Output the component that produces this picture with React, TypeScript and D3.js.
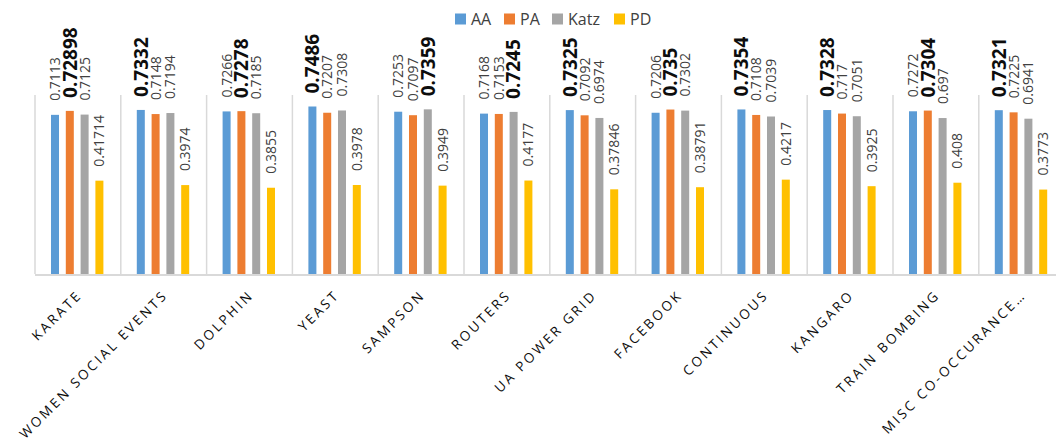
import React from "react";
import * as d3 from "d3";

const categories = [
  "KARATE",
  "WOMEN SOCIAL EVENTS",
  "DOLPHIN",
  "YEAST",
  "SAMPSON",
  "ROUTERS",
  "UA POWER GRID",
  "FACEBOOK",
  "CONTINUOUS",
  "KANGARO",
  "TRAIN BOMBING",
  "MISC CO-OCCURANCE…",
];
const seriesNames = ["AA", "PA", "Katz", "PD"];
const seriesColors = ["#5B9BD5", "#ED7D31", "#A5A5A5", "#FFC000"];
const aaValues = [0.7113, 0.7332, 0.7266, 0.7486, 0.7253, 0.7168, 0.7325, 0.7206, 0.7354, 0.7328, 0.7272, 0.7321];
const paValues = [0.72898, 0.7148, 0.7278, 0.7207, 0.7097, 0.7153, 0.7092, 0.735, 0.7108, 0.717, 0.7304, 0.7225];
const katzValues = [0.7125, 0.7194, 0.7185, 0.7308, 0.7359, 0.7245, 0.6974, 0.7302, 0.7039, 0.7051, 0.697, 0.6941];
const pdValues = [0.41714, 0.3974, 0.3855, 0.3978, 0.3949, 0.4177, 0.37846, 0.38791, 0.4217, 0.3925, 0.408, 0.3773];
const yDomain = [0, 0.8];

const allSeries = [aaValues, paValues, katzValues, pdValues];

export default function App() {
  const W = 1056;
  const H = 448;
  const left = 35;
  const catStep = 85.8;
  const x = d3
    .scaleBand<string>()
    .domain(categories)
    .range([left, left + catStep * categories.length])
    .padding(0);
  const inner = d3.scaleBand<string>().domain(seriesNames).range([12.6, 71.8]).padding(0);
  const y = d3.scaleLinear().domain(yDomain).range([274, 95]);
  const barW = 8;
  const legendX = [455, 504, 552, 614];

  return (
    <svg
      width={W}
      height={H}
      style={{ position: "absolute", left: 0, top: 0, background: "#fff" }}
      fontFamily="'Open Sans', sans-serif"
    >
      {categories.map((c, i) => (
        <line
          key={"sep" + i}
          x1={x(c)!}
          x2={x(c)!}
          y1={y(yDomain[1])}
          y2={y(0)}
          stroke="#d9d9d9"
          strokeWidth={1.5}
        />
      ))}
      <line
        x1={x.range()[1]}
        x2={x.range()[1]}
        y1={y(yDomain[1])}
        y2={y(0)}
        stroke="#d9d9d9"
        strokeWidth={1.5}
      />
      {categories.map((c, ci) => (
        <g key={"g" + ci}>
          {seriesNames.map((s, si) => {
            const v = allSeries[si][ci];
            const cx = x(c)! + inner(s)! + inner.bandwidth() / 2;
            return (
              <rect
                key={s}
                x={cx - barW / 2}
                y={y(v)}
                width={barW}
                height={y(0) - y(v)}
                fill={seriesColors[si]}
              />
            );
          })}
        </g>
      ))}
      <line x1={left} x2={x.range()[1]} y1={y(0) + 1} y2={y(0) + 1} stroke="#d9d9d9" strokeWidth={2} />
      {categories.map((c, ci) => {
        const group = [aaValues[ci], paValues[ci], katzValues[ci]];
        const maxV = Math.max(...group);
        return (
          <g key={"l" + ci}>
            {seriesNames.map((s, si) => {
              const v = allSeries[si][ci];
              const cx = x(c)! + inner(s)! + inner.bandwidth() / 2;
              const bold = si < 3 && v === maxV;
              const ty = y(v) - (bold ? 13 : 14);
              return (
                <text
                  key={s}
                  transform={`translate(${cx},${ty}) rotate(-90)`}
                  dy="0.36em"
                  fontSize={bold ? 19 : 14}
                  fontWeight={bold ? 700 : 400}
                  fill={bold ? "#0d0d0d" : "#404040"}
                  textAnchor="start"
                >
                  {String(v)}
                </text>
              );
            })}
          </g>
        );
      })}
      {categories.map((c, ci) => {
        const cx = x(c)! + x.bandwidth() / 2;
        return (
          <text
            key={"c" + ci}
            transform={`translate(${cx + 5},${296}) rotate(-45)`}
            textAnchor="end"
            fontSize={13.5}
            letterSpacing={2.6}
            fill="#0d0d0d"
          >
            {c}
          </text>
        );
      })}
      {seriesNames.map((s, si) => {
        const lx = legendX[si];
        return (
          <g key={"lg" + s}>
            <rect x={lx} y={13.5} width={11} height={11} fill={seriesColors[si]} />
            <text x={lx + 16} y={25} fontSize={16} fill="#404040">
              {s}
            </text>
          </g>
        );
      })}
    </svg>
  );
}
